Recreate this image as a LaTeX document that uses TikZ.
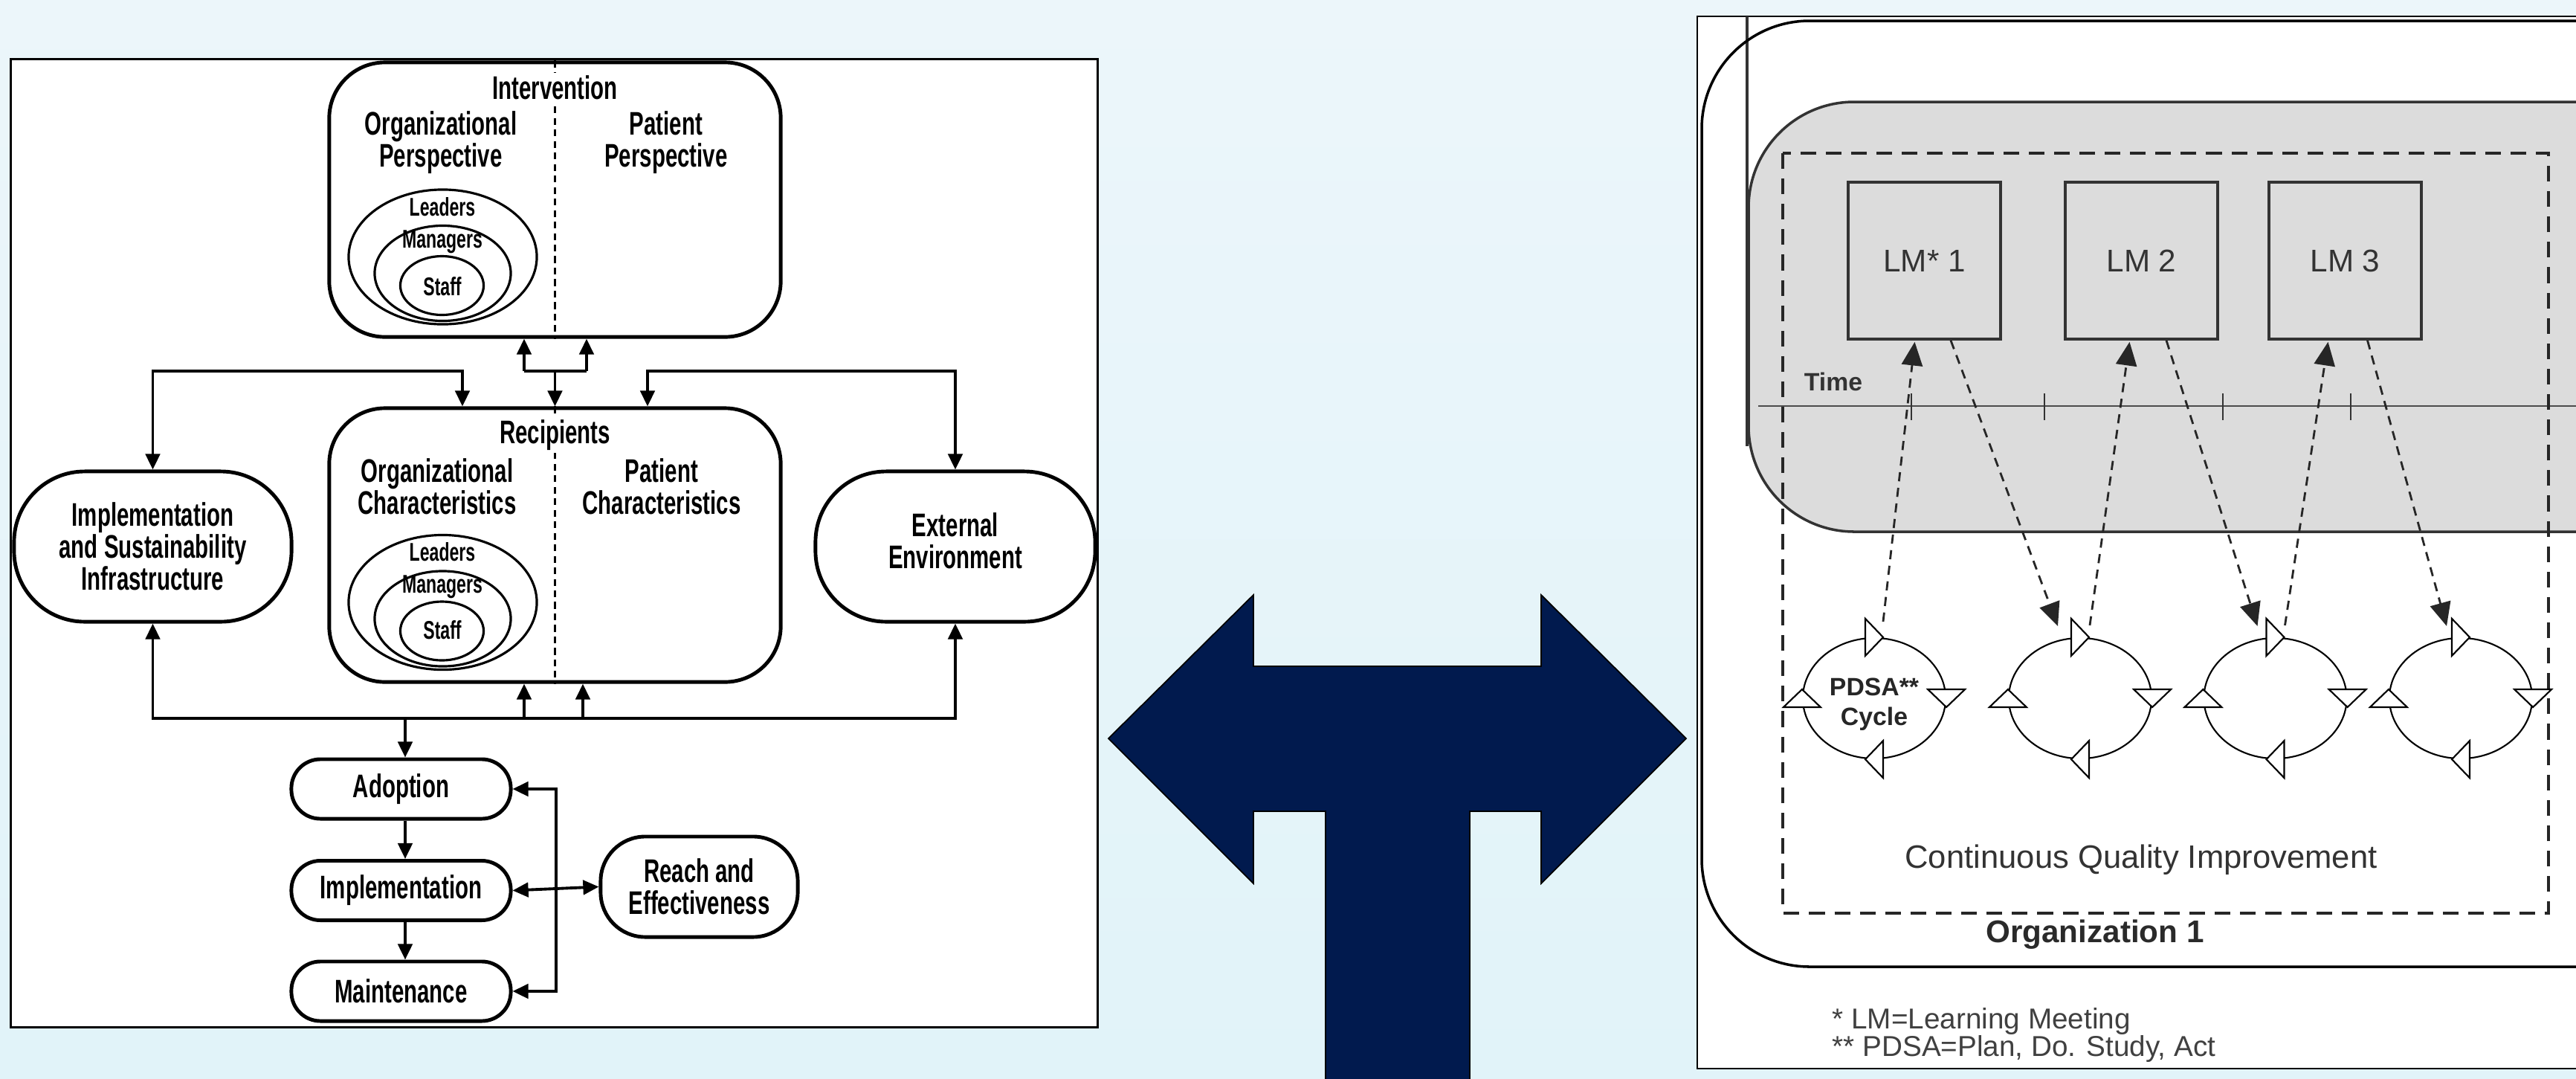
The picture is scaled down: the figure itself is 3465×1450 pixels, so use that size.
\documentclass[tikz,border=0pt]{standalone}
\usepackage{fontspec}
\setmainfont{Liberation Sans}
\newfontfamily\condf[FakeStretch=0.67]{Liberation Sans}
\usetikzlibrary{arrows.meta,calc,shapes.geometric}
\definecolor{navy}{HTML}{011A4E}
\definecolor{bgtop}{HTML}{ECF6FA}
\definecolor{bgbot}{HTML}{E1F3F9}
\definecolor{graybg}{HTML}{DCDCDC}
\definecolor{ink}{HTML}{2A2A2A}
\begin{document}
\begin{tikzpicture}[x=0.01cm,y=-0.01cm,
  lbox/.style={draw, line width=1.4pt, fill=white, inner sep=0pt, align=center,
    font=\condf\bfseries\fontsize{12.5}{12.3}\selectfont},
  ltxt/.style={font=\condf\bfseries\fontsize{12.5}{12.3}\selectfont, align=center, inner sep=1pt},
  etxt/.style={font=\condf\bfseries\fontsize{9.8}{9.8}\selectfont, inner sep=0.5pt},
  ell/.style={ellipse, draw, line width=0.9pt, inner sep=0pt},
  dline/.style={dashed, dash pattern=on 2.6pt off 1.8pt, line width=0.6pt},
  wline/.style={line width=1.1pt},
  conn/.style={line width=1.1pt, -{Triangle[length=6pt,width=5.5pt]}},
  conn2/.style={line width=1.1pt, {Triangle[length=6pt,width=5.5pt]}-{Triangle[length=6pt,width=5.5pt]}},
  lmbox/.style={draw=black!80, line width=1pt, fill=graybg, minimum width=2.05cm, minimum height=2.11cm,
    font=\fontsize{12}{14}\selectfont, text=black!80},
  cyc/.style={ellipse, draw, line width=0.6pt, minimum width=1.92cm, minimum height=1.62cm, inner sep=0pt},
  tri/.style={draw, line width=0.6pt, fill=white},
  darr/.style={dash pattern=on 3.5pt off 2.5pt, line width=0.8pt, black!85, -{Triangle[length=9pt,width=8pt]}}
]
\useasboundingbox (0,0) rectangle (3465,1450);
\shade[top color=bgtop, bottom color=bgbot] (0,0) rectangle (3465,1450);

% ---------------- left panel ----------------
\node[draw=black, line width=0.7pt, fill=white, minimum width=14.61cm, minimum height=13.01cm, inner sep=0pt] (lpanel) at (745.5,730.5) {};

\node[draw, line width=1.4pt, fill=white, rounded corners=0.75cm, minimum width=6.07cm, minimum height=3.69cm, inner sep=0pt] (interv) at (746.5,268.5) {};
\node[draw, line width=1.4pt, fill=white, rounded corners=0.75cm, minimum width=6.07cm, minimum height=3.68cm, inner sep=0pt] (recip) at (746.5,733) {};
\draw[dline] (interv.north) -- (interv.south);
\draw[dline] (recip.north) -- (recip.south);

\node[ltxt, fill=white] (intt) at (746.5,118) {Intervention};
\node[ltxt] (orgp) at (593,191.5) {Organizational\\Perspective};
\node[ltxt] (patp) at (896,191.5) {Patient\\Perspective};
\node[ell, minimum width=2.53cm, minimum height=1.81cm] (il1) at (595.5,345.5) {};
\node[ell, minimum width=1.83cm, minimum height=1.28cm] (il2) at (595.5,367.5) {};
\node[ell, minimum width=1.12cm, minimum height=0.79cm] (il3) at (594.5,384) {};
\node[etxt] (ilt1) at (595,278) {Leaders};
\node[etxt] (ilt2) at (595,325) {Managers};
\node[etxt] (ilt3) at (595,385) {Staff};

\node[ltxt, fill=white] (rect) at (746.5,585) {Recipients};
\node[ltxt] (orgc) at (588,654.5) {Organizational\\Characteristics};
\node[ltxt] (patc) at (890,654.5) {Patient\\Characteristics};
\node[ell, minimum width=2.53cm, minimum height=1.81cm] (rl1) at (595.5,810) {};
\node[ell, minimum width=1.83cm, minimum height=1.28cm] (rl2) at (595.5,832) {};
\node[ell, minimum width=1.12cm, minimum height=0.79cm] (rl3) at (594.5,848.5) {};
\node[etxt] (rlt1) at (595,742) {Leaders};
\node[etxt] (rlt2) at (595,789) {Managers};
\node[etxt] (rlt3) at (595,847) {Staff};

\node[lbox, rounded corners=0.95cm, minimum width=3.73cm, minimum height=2.02cm] (infra) at (205.5,735) {Implementation\\and Sustainability\\Infrastructure};
\node[lbox, rounded corners=0.95cm, minimum width=3.76cm, minimum height=2.02cm] (ext) at (1285,735) {};
\node[ltxt] (extt) at (1285,727) {External\\Environment};

\node[lbox, rounded corners=0.39cm, minimum width=2.95cm, minimum height=0.8cm] (adopt) at (539.5,1061) {Adoption};
\node[lbox, rounded corners=0.39cm, minimum width=2.95cm, minimum height=0.8cm] (implm) at (539.5,1197.5) {Implementation};
\node[lbox, rounded corners=0.39cm, minimum width=2.95cm, minimum height=0.8cm] (maint) at (539.5,1333) {Maintenance};
\node[lbox, rounded corners=0.6cm, minimum width=2.65cm, minimum height=1.35cm] (reach) at (940.5,1192.5) {Reach and\\Effectiveness};

% connectors
\coordinate (j1) at (705,499);
\coordinate (j2) at (789,499);
\coordinate (j3) at (746.5,499);
\draw[wline] (j1) -- (j2);
\draw[conn] (j1) -- (j1 |- interv.south);
\draw[conn] (j2) -- (j2 |- interv.south);
\draw[conn] (j3) -- (recip.north);
\coordinate (l1) at (205.5,499);
\coordinate (l2) at (622,499);
\draw[conn2] (infra.north) -- (l1) -- (l2) -- (l2 |- recip.north);
\coordinate (r1) at (1285,499);
\coordinate (r2) at (871,499);
\draw[conn2] (ext.north) -- (r1) -- (r2) -- (r2 |- recip.north);
\coordinate (b1) at (205.5,966);
\coordinate (b2) at (1285,966);
\draw[conn2] (infra.south) -- (b1) -- (b2) -- (ext.south);
\coordinate (b3) at (705,966);
\coordinate (b4) at (784,966);
\coordinate (b5) at (545,966);
\draw[conn] (b3) -- (b3 |- recip.south);
\draw[conn] (b4) -- (b4 |- recip.south);
\draw[conn] (b5) -- (b5 |- adopt.north);
\draw[conn] (adopt.south -| b5) -- (implm.north -| b5);
\draw[conn] (implm.south -| b5) -- (maint.north -| b5);
\coordinate (v1) at (748,0);
\draw[conn2] (adopt.east) -- (adopt.east -| v1) -- (maint.east -| v1) -- (maint.east);
\draw[conn2] (implm.east) -- (reach.west);

% ---------------- central arrow ----------------
\fill[navy, draw=black, line width=0.5pt] (1491,993) -- (1686,800) -- (1686,896) -- (2073,896) -- (2073,800)
  -- (2268,993) -- (2073,1188) -- (2073,1091) -- (1977,1091) -- (1977,1470) -- (1783,1470)
  -- (1783,1091) -- (1686,1091) -- (1686,1188) -- cycle;

% ---------------- right panel ----------------
\begin{scope}
\clip (2270,0) rectangle (3465,1450);
\draw[fill=white, line width=0.6pt] (2283,22) rectangle (3520,1437);
\draw[line width=0.9pt, black!80] (2350,22) -- (2350,600);
\draw[line width=1pt, rounded corners=1.45cm] (2289,28) rectangle (3700,1300);
\draw[fill=graybg, draw=black!80, line width=1pt, rounded corners=1.42cm] (2352,137) rectangle (3700,715);
\draw[line width=0.8pt, black!70] (2365,546) -- (3480,546);
\end{scope}
\foreach \x in {2571,2750,2990,3162} \draw[line width=0.8pt, black!80] (\x,529) -- (\x,565);
\draw[dash pattern=on 6pt off 3.7pt, line width=1pt, black!85] (2398,206) rectangle (3428,1228);

\node[lmbox] (lm1) at (2588.5,350.5) {LM* 1};
\node[lmbox] (lm2) at (2880.5,350.5) {LM 2};
\node[lmbox] (lm3) at (3154.5,350.5) {LM 3};
\node[font=\bfseries\fontsize{9.6}{11}\selectfont, text=black!80, inner sep=0pt] (time) at (2466,513) {Time};

\node[cyc] (c1) at (2521,939) {};
\node[cyc] (c2) at (2798,939) {};
\node[cyc] (c3) at (3060.5,939) {};
\node[cyc] (c4) at (3310,939) {};
\foreach \c in {c1,c2,c3,c4}{
  \draw[tri] ($(\c.north)+(-12,-25)$) -- ++(0,50) -- ++(24,-25) -- cycle;
  \draw[tri] ($(\c.east)+(-25,-12)$) -- ++(50,0) -- ++(-25,24) -- cycle;
  \draw[tri] ($(\c.south)+(12,-25)$) -- ++(0,50) -- ++(-24,-25) -- cycle;
  \draw[tri] ($(\c.west)+(-25,12)$) -- ++(50,0) -- ++(-25,-24) -- cycle;
}
\node[font=\bfseries\fontsize{9.6}{11.4}\selectfont, align=center, text=black!85, inner sep=0pt] (pdsa) at (2521,947) {PDSA**\\Cycle};

\draw[darr] ($(c1.north)+(12,-21)$) -- ($(lm1.south)+(-13,2)$);
\draw[darr] ($(lm1.south)+(35.5,0)$) -- ($(c2.north)+(-30,-15)$);
\draw[darr] ($(c2.north)+(13,-16)$) -- ($(lm2.south)+(-16,2)$);
\draw[darr] ($(lm2.south)+(33.5,0)$) -- ($(c3.north)+(-24,-15)$);
\draw[darr] ($(c3.north)+(13,-16)$) -- ($(lm3.south)+(-23,2)$);
\draw[darr] ($(lm3.south)+(30,0)$) -- ($(c4.north)+(-19,-15)$);

\node[font=\fontsize{12.4}{14}\selectfont, text=black!80] (cqi) at (2880,1156) {Continuous Quality Improvement};
\node[font=\bfseries\fontsize{12}{14}\selectfont, text=ink] (org1) at (2818,1257) {Organization 1};
\node[font=\fontsize{11}{13}\selectfont, text=black!75, anchor=west, inner sep=0pt] (fn1) at (2464,1373) {* LM=Learning Meeting};
\node[font=\fontsize{11}{13}\selectfont, text=black!75, anchor=west, inner sep=0pt] (fn2) at (2464,1410) {** PDSA=Plan, Do. Study, Act};
\end{tikzpicture}
\end{document}
